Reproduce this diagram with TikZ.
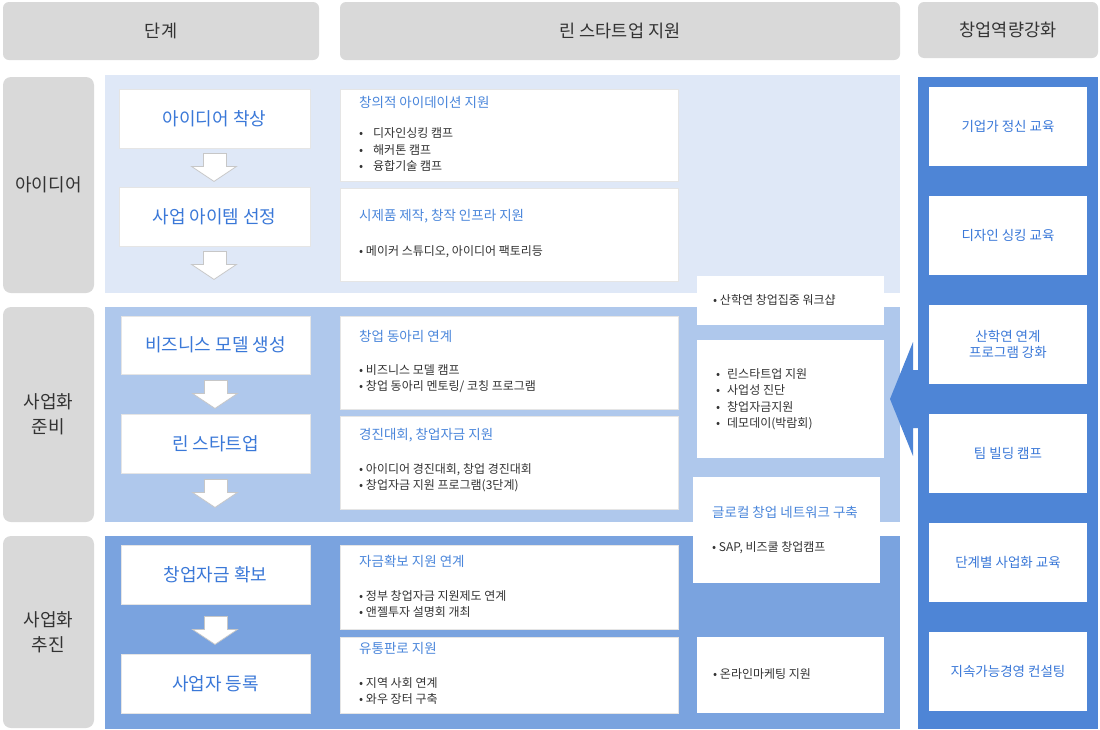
\documentclass[tikz,border=0pt]{standalone}
\usepackage{fontspec}
\setmainfont{Noto Sans CJK KR}
\usetikzlibrary{fit,calc}
\definecolor{hdr}{HTML}{D9D9D9}
\definecolor{bandA}{HTML}{DFE8F7}
\definecolor{bandB}{HTML}{AFC8EC}
\definecolor{bandC}{HTML}{7AA3DF}
\definecolor{bandR}{HTML}{4E85D6}
\definecolor{tblue}{HTML}{3A78D8}
\definecolor{hblue}{HTML}{4A86DB}
\definecolor{dark}{HTML}{333333}
\newcommand\darr[2]{\draw[darrow] ($(#1.south)+(-11,#2)$) -- ++(23,0) -- ++(0,13) -- ++(10,0) -- ++(-22.5,15) -- ++(-22.5,-15) -- ++(12,0) -- cycle;}
\begin{document}
\begin{tikzpicture}[x=1pt,y=-1pt,
  hdrbox/.style={fill=hdr, rounded corners=6pt, inner sep=0},
  hdrtxt/.style={inner sep=0, text=dark, font=\fontsize{17.5}{21}\selectfont},
  stagebox/.style={fill=hdr, rounded corners=8pt, inner sep=0},
  stagetxt/.style={inner sep=0, text=dark, align=center, font=\fontsize{18}{25}\selectfont},
  band/.style={inner sep=0},
  wbox/.style={fill=white, draw=black!10, line width=0.8pt, inner sep=0},
  ttltxt/.style={inner sep=0, text=tblue, font=\fontsize{18}{22}\selectfont},
  rbox/.style={fill=white, inner sep=0},
  rtxt/.style={inner sep=0, text=tblue, align=center, font=\fontsize{13.5}{16}\selectfont},
  hd/.style={anchor=west, inner sep=0, text=hblue, font=\fontsize{13.5}{16}\selectfont},
  bl/.style={anchor=west, inner sep=0, text=dark, align=left, font=\fontsize{12}{16.5}\selectfont},
  darrow/.style={fill=white, draw=black!22, line width=0.8pt, line join=miter}
]
\useasboundingbox (0,0) rectangle (1100,729);
\fill[white] (0,0) rectangle (1100,729);

% headers
\node[hdrbox, fit={(3,2) (319,60)}] (h1) {};
\node[hdrbox, fit={(340,2) (900,60)}] (h2) {};
\node[hdrbox, fit={(918,2) (1098,58)}] (h3) {};
\node[hdrtxt] (h1t) at (h1.center) {단계};
\node[hdrtxt] (h2t) at (h2.center) {린 스타트업 지원};
\node[hdrtxt] (h3t) at (h3.center) {창업역량강화};

% stage labels
\node[stagebox, fit={(3,77) (94,293)}] (s1) {};
\node[stagebox, fit={(3,307) (94,522)}] (s2) {};
\node[stagebox, fit={(3,536) (94,728)}] (s3) {};
\node[stagetxt] (s1t) at (s1.center) {아이디어};
\node[stagetxt] (s2t) at (s2.center) {사업화\\준비};
\node[stagetxt] (s3t) at (s3.center) {사업화\\추진};

% bands
\node[band, fill=bandA, fit={(105,75) (900,293)}] (bA) {};
\node[band, fill=bandB, fit={(105,307) (900,522)}] (bB) {};
\node[band, fill=bandC, fit={(105,536) (900,729)}] (bC) {};
\node[band, fill=bandR, fit={(918,77) (1098,729)}] (bR) {};

% big left arrow
\fill[bandR] (919,370) -- (913,370) -- (913,342) -- (890,399) -- (913,456) -- (913,428) -- (919,428) -- cycle;

% stage title boxes
\node[wbox, fit={(119,89) (310,148)}] (t1) {};
\node[wbox, fit={(119,187) (310,246)}] (t2) {};
\node[wbox, fit={(121,316) (310,374)}] (t3) {};
\node[wbox, fit={(121,414) (310,473)}] (t4) {};
\node[wbox, fit={(121,545) (310,604)}] (t5) {};
\node[wbox, fit={(121,654) (310,713)}] (t6) {};
\node[ttltxt] (t1t) at (t1.center) {아이디어 착상};
\node[ttltxt] (t2t) at (t2.center) {사업 아이템 선정};
\node[ttltxt] (t3t) at (t3.center) {비즈니스 모델 생성};
\node[ttltxt] (t4t) at (t4.center) {린 스타트업};
\node[ttltxt] (t5t) at (t5.center) {창업자금 확보};
\node[ttltxt] (t6t) at (t6.center) {사업자 등록};

\darr{t1}{5}
\darr{t2}{5}
\darr{t3}{6}
\darr{t4}{6}
\darr{t5}{12}

% content boxes
\node[wbox, fit={(340,89) (678,181)}] (c1) {};
\node[wbox, fit={(340,188) (678,281)}] (c2) {};
\node[wbox, fit={(340,316) (678,409)}] (c3) {};
\node[wbox, fit={(340,416) (678,509)}] (c4) {};
\node[wbox, fit={(340,545) (678,629)}] (c5) {};
\node[wbox, fit={(340,637) (678,713)}] (c6) {};

\node[hd] (c1h) at (359,102) {창의적 아이데이션 지원};
\node[bl] (c1b) at (359,150) {\makebox[14pt][l]{•}디자인싱킹 캠프\\\makebox[14pt][l]{•}해커톤 캠프\\\makebox[14pt][l]{•}융합기술 캠프};
\node[hd] (c2h) at (359,216) {시제품 제작, 창작 인프라 지원};
\node[bl] (c2b) at (359,252) {• 메이커 스튜디오, 아이디어 팩토리등};
\node[hd] (c3h) at (359,336) {창업 동아리 연계};
\node[bl] (c3b) at (359,378.5) {• 비즈니스 모델 캠프\\• 창업 동아리 멘토링/ 코칭 프로그램};
\node[hd] (c4h) at (359,435) {경진대회, 창업자금 지원};
\node[bl] (c4b) at (359,477.5) {• 아이디어 경진대회, 창업 경진대회\\• 창업자금 지원 프로그램(3단계)};
\node[hd] (c5h) at (359,561) {자금확보 지원 연계};
\node[bl] (c5b) at (359,604) {• 정부 창업자금 지원제도 연계\\• 앤젤투자 설명회 개최};
\node[hd] (c6h) at (359,648) {유통판로 지원};
\node[bl] (c6b) at (359,691) {• 지역 사회 연계\\• 와우 장터 구축};

% middle-right boxes
\node[wbox, draw=none, fit={(697,276) (884,325)}] (m1) {};
\node[bl] (m1t) at (713,300) {• 산학연 창업집중 워크샵};
\node[wbox, draw=none, fit={(697,340) (884,458)}] (m2) {};
\node[bl] (m2t) at (716,399) {\makebox[11pt][l]{•}린스타트업 지원\\\makebox[11pt][l]{•}사업성 진단\\\makebox[11pt][l]{•}창업자금지원\\\makebox[11pt][l]{•}데모데이(박람회)};
\node[wbox, draw=none, fit={(693,477) (880,583)}] (m3) {};
\node[hd] (m3h) at (712,512) {글로컬 창업 네트워크 구축};
\node[bl] (m3t) at (712,548) {• SAP, 비즈쿨 창업캠프};
\node[wbox, draw=none, fit={(697,637) (884,713)}] (m4) {};
\node[bl] (m4t) at (713,674) {• 온라인마케팅 지원};

% right column boxes
\node[rbox, fit={(929,87) (1087,166)}] (r1) {};
\node[rbox, fit={(929,196) (1087,275)}] (r2) {};
\node[rbox, fit={(929,305) (1087,384)}] (r3) {};
\node[rbox, fit={(929,414) (1087,493)}] (r4) {};
\node[rbox, fit={(929,523) (1087,602)}] (r5) {};
\node[rbox, fit={(929,632) (1087,711)}] (r6) {};
\node[rtxt] (r1t) at (r1.center) {기업가 정신 교육};
\node[rtxt] (r2t) at (r2.center) {디자인 싱킹 교육};
\node[rtxt] (r3t) at (r3.center) {산학연 연계\\프로그램 강화};
\node[rtxt] (r4t) at (r4.center) {팀 빌딩 캠프};
\node[rtxt] (r5t) at (r5.center) {단계별 사업화 교육};
\node[rtxt] (r6t) at (r6.center) {지속가능경영 컨설팅};
\end{tikzpicture}
\end{document}
